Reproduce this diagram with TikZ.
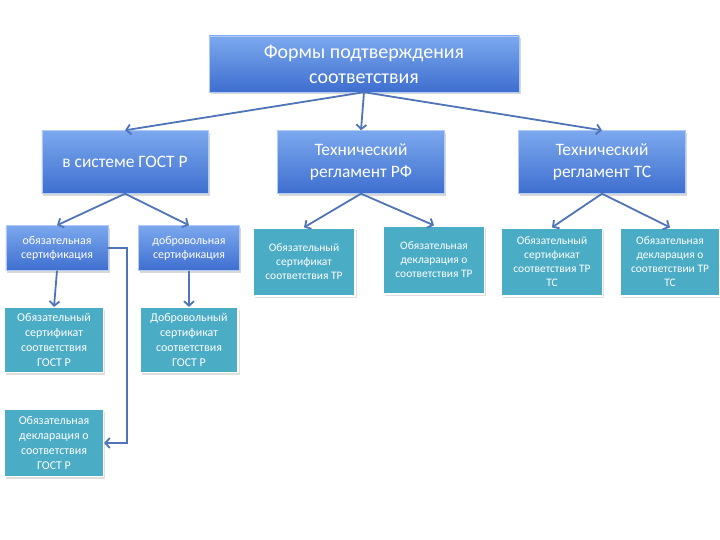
\documentclass[tikz,border=0pt]{standalone}
\usepackage{fontspec}
\setmainfont{Carlito}
\usetikzlibrary{shadows,arrows.meta}
\definecolor{bluetop}{HTML}{7BA8EE}
\definecolor{bluebot}{HTML}{3E6FCF}
\definecolor{tealc}{HTML}{4BACC6}
\definecolor{arrowc}{HTML}{4F74B8}
\tikzset{
  bluebox/.style={draw=bluetop!60!white, top color=bluetop, bottom color=bluebot, text=white,
    align=center, inner sep=2pt,
    drop shadow={opacity=0.3, shadow xshift=1.5bp, shadow yshift=-2.5bp}},
  tealbox/.style={draw=white, line width=1.2bp, fill=tealc, text=white, align=center, inner sep=2pt,
    drop shadow={opacity=0.25, shadow xshift=1.5bp, shadow yshift=-2bp}},
  link/.style={draw=arrowc, line width=1.8bp, -{Straight Barb[length=4.5bp, width=10bp]}}
}
\begin{document}
\begin{tikzpicture}[x=1bp, y=-1bp]
  \useasboundingbox[fill=white] (0,0) rectangle (720,540);
  % top level
  \node[bluebox, minimum width=310bp, minimum height=56bp, font=\fontsize{20}{25}\selectfont] (form) at (364,64) {Формы подтверждения\\соответствия};
  % second level
  \node[bluebox, minimum width=166bp, minimum height=63bp, font=\fontsize{17.5}{22.5}\selectfont] (gost) at (125,162) {в системе ГОСТ Р};
  \node[bluebox, minimum width=167bp, minimum height=63bp, font=\fontsize{17.5}{22.5}\selectfont] (trf) at (361,162) {Технический\\регламент РФ};
  \node[bluebox, minimum width=167bp, minimum height=63bp, font=\fontsize{17.5}{22.5}\selectfont] (tts) at (602,162) {Технический\\регламент ТС};
  % third level
  \node[bluebox, minimum width=102bp, minimum height=45bp, font=\fontsize{12}{14}\selectfont] (obsert) at (57,248) {обязательная\\сертификация};
  \node[bluebox, minimum width=101bp, minimum height=45bp, font=\fontsize{12}{14}\selectfont] (dobsert) at (189,248) {добровольная\\сертификация};
  \node[tealbox, minimum width=102bp, minimum height=68bp, font=\fontsize{11.5}{14}\selectfont] (trfsert) at (304,262) {Обязательный\\сертификат\\соответствия ТР};
  \node[tealbox, minimum width=101bp, minimum height=68bp, font=\fontsize{11.5}{14}\selectfont] (trfdecl) at (434,260) {Обязательная\\декларация о\\соответствия ТР};
  \node[tealbox, minimum width=101bp, minimum height=68bp, font=\fontsize{11.5}{14}\selectfont] (ttssert) at (552,262) {Обязательный\\сертификат\\соответствия ТР\\ТС};
  \node[tealbox, minimum width=100bp, minimum height=68bp, font=\fontsize{11.5}{14}\selectfont] (ttsdecl) at (670,262) {Обязательная\\декларация о\\соответствии ТР\\ТС};
  % bottom level
  \node[tealbox, minimum width=99bp, minimum height=65bp, font=\fontsize{12}{15}\selectfont] (gostsert) at (54,340) {Обязательный\\сертификат\\соответствия\\ГОСТ Р};
  \node[tealbox, minimum width=98bp, minimum height=65bp, font=\fontsize{12}{15}\selectfont] (gostdsert) at (189,340) {Добровольный\\сертификат\\соответствия\\ГОСТ Р};
  \node[tealbox, minimum width=99bp, minimum height=67bp, font=\fontsize{12}{15}\selectfont] (gostdecl) at (54,443) {Обязательная\\декларация о\\соответствия\\ГОСТ Р};
  % connectors
  \draw[link] (form.south) -- (gost.north);
  \draw[link] (form.south) -- (trf.north);
  \draw[link] (form.south) -- (tts.north);
  \draw[link] (gost.south) -- (obsert.north);
  \draw[link] (gost.south) -- (dobsert.north);
  \draw[link] (trf.south) -- (trfsert.north);
  \draw[link] (trf.south) -- (trfdecl.north);
  \draw[link] (tts.south) -- (ttssert.north);
  \draw[link] (tts.south) -- (ttsdecl.north);
  \draw[link] (obsert.south) -- (gostsert.north);
  \draw[link] (dobsert.south) -- (gostdsert.north);
  \draw[link] (obsert.east) -- ++(19,0) |- (gostdecl.east);
\end{tikzpicture}
\end{document}
